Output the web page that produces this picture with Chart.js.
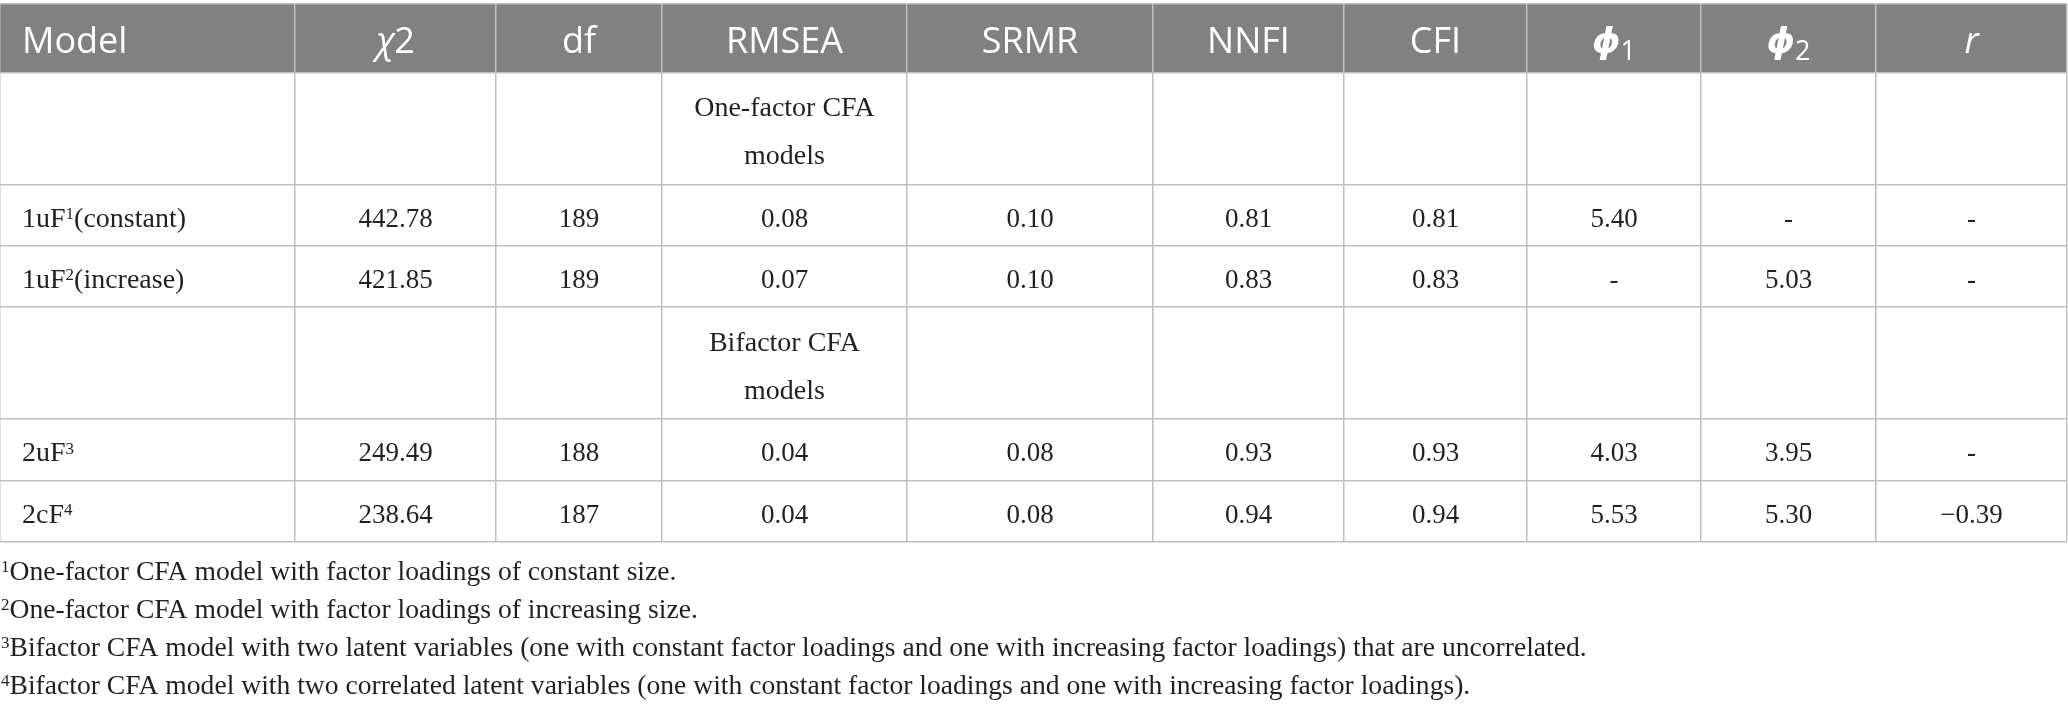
<!DOCTYPE html>
<html>
<head>
<meta charset="utf-8">
<script src="https://cdn.jsdelivr.net/npm/chart.js@4.4.1/dist/chart.umd.min.js"></script>
<style>
  html, body { margin: 0; padding: 0; background: #fff; }
  #wrap { width: 2068px; height: 706px; position: relative; }
</style>
</head>
<body>
<div id="wrap"><canvas id="fit-table"></canvas></div>
<script>
/*
Model fit of the one-factor and bifactor CFA models.
Drawn as a table on top of a Chart.js scatter: the grid lines are the
scale grids, every cell is a (hidden) point placed by the scales.
*/

// ---- table content ----
const columns = ['Model', 'χ2', 'df', 'RMSEA', 'SRMR', 'NNFI', 'CFI', 'ϕ1', 'ϕ2', 'r'];
const sectionTitles = ['One-factor CFA models', 'Bifactor CFA models'];
const sectionSizes = [2, 2];

const modelNames = ['1uF', '1uF', '2uF', '2cF'];
const modelNotes = ['1', '2', '3', '4'];
const modelSuffix = ['(constant)', '(increase)', '', ''];

const chi2 = [442.78, 421.85, 249.49, 238.64];
const df = [189, 189, 188, 187];
const rmsea = [0.08, 0.07, 0.04, 0.04];
const srmr = [0.10, 0.10, 0.08, 0.08];
const nnfi = [0.81, 0.83, 0.93, 0.94];
const cfi = [0.81, 0.83, 0.93, 0.94];
const phi1 = [5.40, null, 4.03, 5.53];
const phi2 = [null, 5.03, 3.95, 5.30];
const corr = [null, null, null, -0.39];

const footnotes = [
  'One-factor CFA model with factor loadings of constant size.',
  'One-factor CFA model with factor loadings of increasing size.',
  'Bifactor CFA model with two latent variables (one with constant factor loadings and one with increasing factor loadings) that are uncorrelated.',
  'Bifactor CFA model with two correlated latent variables (one with constant factor loadings and one with increasing factor loadings).',
];

// ---- layout ----
const colWidths = [295, 201, 166, 245, 246, 191, 183, 174, 175, 191];
const headerH = 68.5;
const sectionH = 112;
const rowH = 61.3;
const tableTop = 4;
const cellPad = 22;
const sectionColumn = 3;

const SERIF = '"Liberation Serif", "DejaVu Serif", serif';
const SANS = '"Open Sans", "DejaVu Sans", sans-serif';
const bodyFont = `27px ${SERIF}`;
const wordFont = `28px ${SERIF}`;
const noteFont = `27.6px ${SERIF}`;
const supFont = `17px ${SERIF}`;
const inkColor = '#231f20';
const lineColor = '#bfbfbf';
const headerFill = '#808180';

const colEdges = [0];
colWidths.forEach((w) => colEdges.push(colEdges[colEdges.length - 1] + w));
const tableWidth = colEdges[colEdges.length - 1];

const fmt = (v) => {
  if (v === null) return '-';
  return v < 0 ? '\u2212' + Math.abs(v).toFixed(2) : v.toFixed(2);
};

const run = (text, font, dy = 0) => ({ text, font, dy });

function headerRuns(label) {
  if (label[0] === 'χ') {
    return [run('χ', `italic 36px ${SANS}`), run(label.slice(1), `36px ${SANS}`)];
  }
  if (label[0] === 'ϕ') {
    return [run('ϕ', `italic bold 36px ${SANS}`), run(label.slice(1), `27px ${SANS}`, 7)];
  }
  if (label === 'r') return [run('r', `italic 36px ${SANS}`)];
  return [run(label, `36px ${SANS}`)];
}

const colX = (c) => (c === 0 ? colEdges[0] + cellPad : colEdges[c] + colWidths[c] / 2);
const colAlign = (c) => (c === 0 ? 'left' : 'center');

// build the cells and the row boundaries
const cells = [];
const rowEdges = [0, headerH];

columns.forEach((label, c) => {
  cells.push({ x: colX(c), y: headerH / 2, runs: headerRuns(label), align: colAlign(c), color: '#fff', base: 15 });
});

let yCursor = headerH;
let m = 0;
sectionTitles.forEach((title, s) => {
  cells.push({ x: colX(sectionColumn), y: yCursor + sectionH / 2, wrap: title, col: sectionColumn, color: inkColor });
  yCursor += sectionH;
  rowEdges.push(yCursor);

  for (let k = 0; k < sectionSizes[s]; k++, m++) {
    const mid = yCursor + rowH / 2;
    const values = [
      String(chi2[m]), String(df[m]), fmt(rmsea[m]), fmt(srmr[m]), fmt(nnfi[m]),
      fmt(cfi[m]), fmt(phi1[m]), fmt(phi2[m]), fmt(corr[m]),
    ];
    const nameRuns = [run(modelNames[m], wordFont), run(modelNotes[m], supFont, -7.5)];
    if (modelSuffix[m]) nameRuns.push(run(modelSuffix[m], wordFont));
    cells.push({ x: colX(0), y: mid, runs: nameRuns, align: 'left', color: inkColor, base: 11.5 });
    values.forEach((v, i) => {
      cells.push({ x: colX(i + 1), y: mid, runs: [run(v, bodyFont)], align: 'center', color: inkColor, base: 11.5 });
    });
    yCursor += rowH;
    rowEdges.push(yCursor);
  }
});
const tableHeight = yCursor;

function drawRuns(ctx, runs, x, baseline, align) {
  let total = 0;
  runs.forEach((r) => {
    ctx.font = r.font;
    r.w = ctx.measureText(r.text).width;
    total += r.w;
  });
  let cx = align === 'center' ? x - total / 2 : x;
  runs.forEach((r) => {
    ctx.font = r.font;
    ctx.fillText(r.text, cx, baseline + r.dy);
    cx += r.w;
  });
}

function wrapText(ctx, text, maxWidth) {
  const words = text.split(' ');
  const lines = [];
  let line = '';
  words.forEach((w) => {
    const test = line ? line + ' ' + w : w;
    if (line && ctx.measureText(test).width > maxWidth) {
      lines.push(line);
      line = w;
    } else {
      line = test;
    }
  });
  if (line) lines.push(line);
  return lines;
}

const tablePlugin = {
  id: 'tablePlugin',
  beforeDraw(chart) {
    const { ctx, chartArea, scales } = chart;
    ctx.save();
    ctx.fillStyle = '#fff';
    ctx.fillRect(0, 0, chart.width, chart.height);
    const top = scales.y.getPixelForValue(0);
    const bottom = scales.y.getPixelForValue(headerH);
    ctx.fillStyle = headerFill;
    ctx.fillRect(chartArea.left, top, chartArea.right - chartArea.left, bottom - top);
    ctx.restore();
  },
  afterDatasetsDraw(chart) {
    const { ctx, scales } = chart;
    const meta = chart.getDatasetMeta(0);
    ctx.save();
    ctx.textAlign = 'left';
    ctx.textBaseline = 'alphabetic';
    cells.forEach((cell, i) => {
      const pt = meta.data[i];
      ctx.fillStyle = cell.color;
      if (cell.wrap) {
        ctx.font = wordFont;
        ctx.textAlign = 'center';
        const w = scales.x.getPixelForValue(colEdges[cell.col + 1]) - scales.x.getPixelForValue(colEdges[cell.col]);
        const lines = wrapText(ctx, cell.wrap, w - 40);
        lines.forEach((ln, j) => {
          ctx.fillText(ln, pt.x, pt.y + 11.5 + (j - (lines.length - 1) / 2) * 48);
        });
        ctx.textAlign = 'left';
      } else {
        drawRuns(ctx, cell.runs, pt.x, pt.y + cell.base, cell.align);
      }
    });
    ctx.restore();
  },
  afterDraw(chart) {
    const { ctx, chartArea } = chart;
    ctx.save();
    ctx.fillStyle = inkColor;
    ctx.textBaseline = 'alphabetic';
    footnotes.forEach((note, i) => {
      const baseline = chartArea.bottom + 38.5 + i * 38;
      drawRuns(ctx, [run(String(i + 1), supFont, -8), run(note, noteFont)], chartArea.left + 1, baseline, 'left');
    });
    ctx.restore();
  },
};

const gridOpts = {
  color: lineColor,
  lineWidth: 1.5,
  drawTicks: false,
  tickLength: 0,
};

const configTable = {
  type: 'scatter',
  data: {
    datasets: [
      {
        label: 'cells',
        data: cells,
        pointRadius: 0,
        pointHoverRadius: 0,
        showLine: false,
      },
    ],
  },
  options: {
    responsive: true,
    maintainAspectRatio: false,
    animation: false,
    events: [],
    layout: {
      padding: {
        top: tableTop,
        right: 1,
        bottom: 706 - tableTop - tableHeight,
        left: 0,
      },
    },
    scales: {
      x: {
        type: 'linear',
        position: 'top',
        min: 0,
        max: tableWidth,
        ticks: { display: false },
        grid: gridOpts,
        border: { display: false },
        afterBuildTicks: (scale) => {
          scale.ticks = colEdges.map((v) => ({ value: v }));
        },
      },
      y: {
        type: 'linear',
        reverse: true,
        min: 0,
        max: tableHeight,
        ticks: { display: false },
        grid: gridOpts,
        border: { display: false },
        afterBuildTicks: (scale) => {
          scale.ticks = rowEdges.map((v) => ({ value: v }));
        },
      },
    },
    plugins: {
      legend: { display: false },
      tooltip: { enabled: false },
    },
  },
  plugins: [tablePlugin],
};

(async function drawTable() {
  try {
    await Promise.all([
      document.fonts.load(bodyFont),
      document.fonts.load(`36px ${SANS}`),
      document.fonts.load(`italic 36px ${SANS}`),
    ]);
  } catch (err) {
    console.log(err);
  }
  new Chart(document.getElementById('fit-table').getContext('2d'), configTable);
})();
</script>
</body>
</html>
